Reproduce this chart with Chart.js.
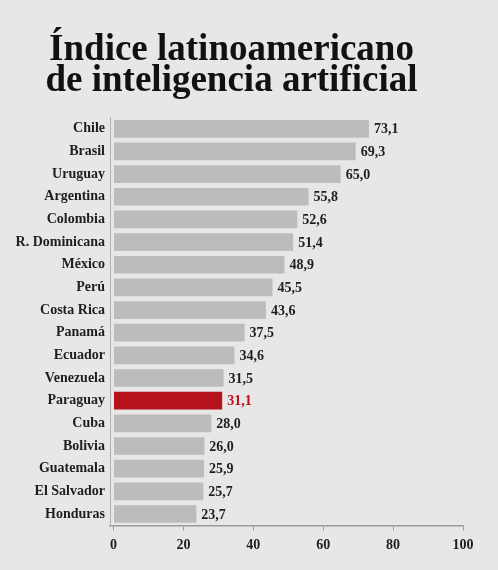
<!DOCTYPE html>
<html>
<head>
<meta charset="utf-8">
<script src="https://cdn.jsdelivr.net/npm/chart.js@4"></script>
<style>
  html, body { margin: 0; padding: 0; background: #e8e6e7; }
  #wrap { width: 498px; height: 570px; position: relative; }
</style>
</head>
<body>
<div id="wrap"><canvas id="chart"></canvas></div>
<script>
const countries = ['Chile', 'Brasil', 'Uruguay', 'Argentina', 'Colombia', 'R. Dominicana', 'México', 'Perú',
    'Costa Rica', 'Panamá', 'Ecuador', 'Venezuela', 'Paraguay', 'Cuba', 'Bolivia', 'Guatemala', 'El Salvador', 'Honduras'];
const scores = [73.1, 69.3, 65.0, 55.8, 52.6, 51.4, 48.9, 45.5, 43.6, 37.5, 34.6, 31.5, 31.1, 28.0, 26.0, 25.9, 25.7, 23.7];
const xTicks = [0, 20, 40, 60, 80, 100];
const highlight = 'Paraguay';

const GRAY = '#bcbcbc';
const RED = '#b5121b';
const TEXT = '#1e1e1e';
const FONT = "'Liberation Serif', 'DejaVu Serif', serif";

const barColors = countries.map(c => c === highlight ? RED : GRAY);

// value labels at the end of each bar, with decimal comma
const valueLabels = {
    id: 'valueLabels',
    afterDatasetsDraw(chart) {
        const ctx = chart.ctx;
        const meta = chart.getDatasetMeta(0);
        ctx.save();
        ctx.font = 'bold 14px ' + FONT;
        ctx.textBaseline = 'middle';
        ctx.textAlign = 'left';
        meta.data.forEach((bar, i) => {
            ctx.fillStyle = countries[i] === highlight ? RED : TEXT;
            ctx.fillText(scores[i].toFixed(1).replace('.', ','), bar.x + 5, bar.y + 1);
        });
        ctx.restore();
    }
};

new Chart(document.getElementById('chart'), {
    type: 'bar',
    data: {
        labels: countries,
        datasets: [{
            data: scores,
            backgroundColor: barColors,
            barPercentage: 0.78,
            categoryPercentage: 1
        }]
    },
    options: {
        indexAxis: 'y',
        responsive: true,
        maintainAspectRatio: false,
        animation: false,
        layout: { padding: { left: 0, right: 35, top: 0, bottom: 0 } },
        plugins: {
            legend: { display: false },
            tooltip: { enabled: false },
            title: {
                display: true,
                text: ['Índice latinoamericano', 'de inteligencia artificial'],
                color: '#111',
                font: { family: FONT, size: 37, weight: 'bold', lineHeight: 0.84 },
                padding: { top: 34.8, bottom: 20.5 }
            }
        },
        scales: {
            x: {
                min: -1,
                max: 100,
                afterBuildTicks: scale => { scale.ticks = xTicks.map(v => ({ value: v })); },
                afterFit: scale => { scale.height = 44.7; },
                border: { display: true, color: '#9a9a9a', width: 1.5 },
                grid: { drawOnChartArea: false, drawTicks: true, tickLength: 5, color: '#9a9a9a' },
                ticks: {
                    color: TEXT,
                    padding: 7,
                    font: { family: FONT, size: 14, weight: 'bold' }
                }
            },
            y: {
                afterFit: scale => { scale.width = 110; },
                border: { display: true, color: '#b0b0b0', width: 1 },
                grid: { display: false, drawTicks: false },
                ticks: {
                    color: TEXT,
                    padding: 5,
                    font: { family: FONT, size: 14, weight: 'bold' }
                }
            }
        }
    },
    plugins: [valueLabels]
});
</script>
</body>
</html>
